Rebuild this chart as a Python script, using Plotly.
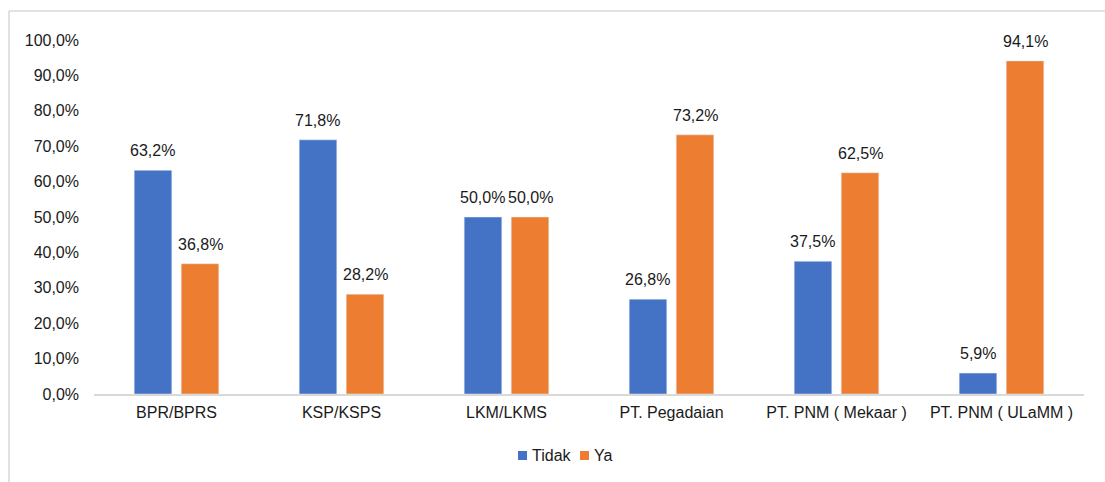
import plotly.graph_objects as go

# Lembaga keuangan dan persentase jawaban
categories = ["BPR/BPRS", "KSP/KSPS", "LKM/LKMS", "PT. Pegadaian",
              "PT. PNM ( Mekaar )", "PT. PNM ( ULaMM )"]
tidak = [63.2, 71.8, 50.0, 26.8, 37.5, 5.9]
ya = [36.8, 28.2, 50.0, 73.2, 62.5, 94.1]
y_ticks = [0, 10, 20, 30, 40, 50, 60, 70, 80, 90, 100]

BLUE = "#4472C4"
ORANGE = "#ED7D31"
TEXT = "#1a1a1a"
GRID = "#D9D9D9"
FONT = "Liberation Sans, Arial, sans-serif"
FS = 16

W, H = 1105, 482
ML, MR, MT, MB = 94, 21, 40, 88
pw, ph = W - ML - MR, H - MT - MB

fig = go.Figure()
fig.add_trace(go.Bar(name="Tidak", x=categories, y=tidak, marker_color=BLUE,
                     showlegend=False))
fig.add_trace(go.Bar(name="Ya", x=categories, y=ya, marker_color=ORANGE,
                     showlegend=False))

# value labels above each bar
slot_shift = (1 - 0.43) * (pw / len(categories)) / 4
for series, sign in ((tidak, -1), (ya, 1)):
    for cat, val in zip(categories, series):
        fig.add_annotation(
            x=cat, y=val, xref="x", yref="y",
            text=f"{val:.1f}%".replace(".", ","),
            showarrow=False, yanchor="bottom", yshift=9,
            xshift=sign * slot_shift,
            font=dict(family=FONT, size=FS, color=TEXT),
        )

# compact legend below the axis
def px_x(p):
    return (p - ML) / pw

def px_y(p):
    return (H - MB - p) / ph

legend_items = [("Tidak", BLUE, 518), ("Ya", ORANGE, 580)]
for name, color, left in legend_items:
    fig.add_shape(type="rect", xref="paper", yref="paper",
                  x0=px_x(left), x1=px_x(left + 9),
                  y0=px_y(460), y1=px_y(451),
                  fillcolor=color, line=dict(width=0))
    fig.add_annotation(x=px_x(left + 12), y=px_y(455.5), xref="paper",
                       yref="paper", text=name, showarrow=False,
                       xanchor="left", yanchor="middle",
                       font=dict(family=FONT, size=FS, color=TEXT))

# outer chart frame (top and left edges)
x_left = px_x(9)
y_top = px_y(11)
fig.add_shape(type="line", xref="paper", yref="paper",
              x0=x_left, x1=px_x(W), y0=y_top, y1=y_top,
              line=dict(color=GRID, width=1.5))
fig.add_shape(type="line", xref="paper", yref="paper",
              x0=x_left, x1=x_left, y0=y_top, y1=px_y(H),
              line=dict(color=GRID, width=1.5))

fig.update_layout(
    width=W, height=H,
    margin=dict(l=ML, r=MR, t=MT, b=MB),
    paper_bgcolor="white", plot_bgcolor="white",
    barmode="group", bargap=0.43, bargroupgap=0.2,
    separators=",.",
    font=dict(family=FONT, size=FS, color=TEXT),
    showlegend=False,
    xaxis=dict(showline=True, linecolor=GRID, linewidth=2,
               showgrid=False, ticks="", ticklabelstandoff=3,
               tickfont=dict(size=FS)),
    yaxis=dict(range=[0, 100], tickvals=y_ticks,
               ticktext=[f"{v:.1f}%".replace(".", ",") for v in y_ticks],
               showgrid=False, zeroline=False, showline=False,
               ticks="", ticklabelstandoff=14, tickfont=dict(size=FS)),
)

fig.write_html("out.html")
